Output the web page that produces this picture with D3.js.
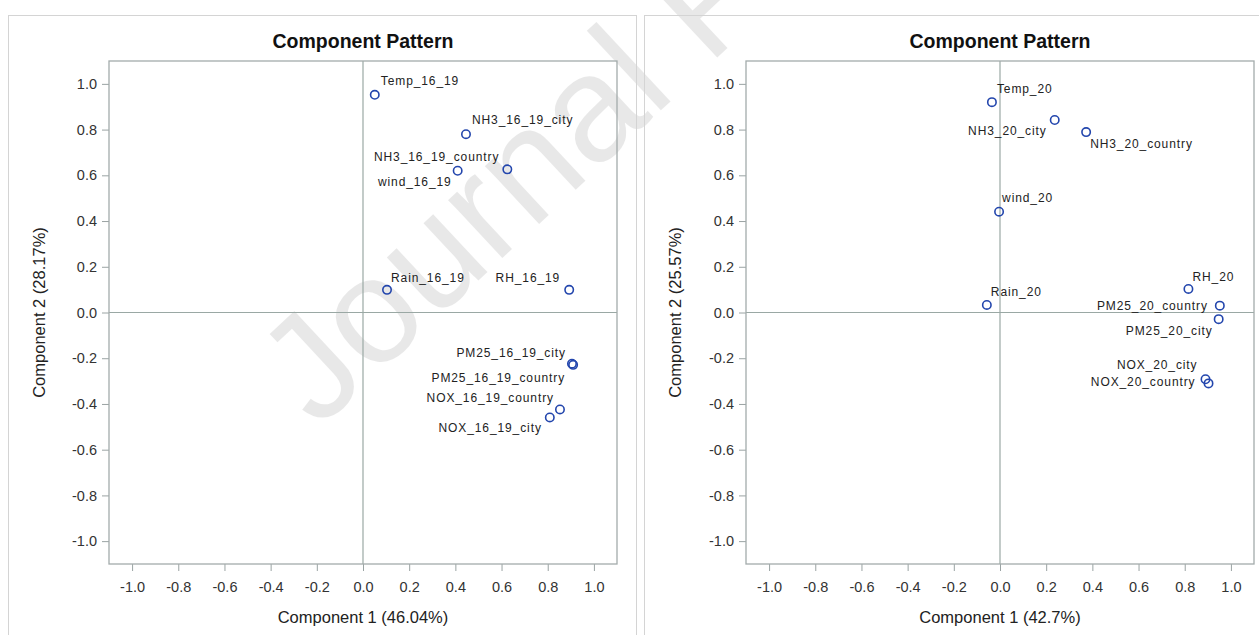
<!DOCTYPE html>
<html>
<head>
    <meta charset="utf-8">
    <title>Component Pattern</title>
    <script src="https://d3js.org/d3.v7.min.js"></script>
    <style>
        body { margin: 0; background: #fff; }
        text { font-family: "Liberation Sans", Arial, sans-serif; }
    </style>
</head>
<body>
    <script>
        // data
        const ticks = [-1.0, -0.8, -0.6, -0.4, -0.2, 0.0, 0.2, 0.4, 0.6, 0.8, 1.0];

        const names1619 = ["Temp_16_19", "NH3_16_19_city", "NH3_16_19_country", "wind_16_19",
            "Rain_16_19", "RH_16_19", "PM25_16_19_city", "PM25_16_19_country",
            "NOX_16_19_country", "NOX_16_19_city"];
        const comp1_1619 = [0.051, 0.446, 0.625, 0.41, 0.104, 0.893, 0.905, 0.91, 0.853, 0.809];
        const comp2_1619 = [0.952, 0.78, 0.626, 0.62, 0.099, 0.099, -0.224, -0.229, -0.424, -0.459];

        const names20 = ["Temp_20", "NH3_20_city", "NH3_20_country", "wind_20", "Rain_20",
            "RH_20", "PM25_20_country", "PM25_20_city", "NOX_20_city", "NOX_20_country"];
        const comp1_20 = [-0.035, 0.237, 0.373, -0.004, -0.057, 0.816, 0.952, 0.947, 0.89, 0.903];
        const comp2_20 = [0.92, 0.842, 0.789, 0.441, 0.033, 0.103, 0.03, -0.029, -0.292, -0.31];

        // where each label sits relative to its point (px)
        const labelPos = {
            "Temp_16_19": [6, -10, "start"],
            "NH3_16_19_city": [6, -10, "start"],
            "NH3_16_19_country": [-8, -8, "end"],
            "wind_16_19": [-6, 15, "end"],
            "Rain_16_19": [4, -8, "start"],
            "RH_16_19": [-9, -8, "end"],
            "PM25_16_19_city": [-6, -7, "end"],
            "PM25_16_19_country": [-8, 17, "end"],
            "NOX_16_19_country": [-6, -7, "end"],
            "NOX_16_19_city": [-8, 15, "end"],
            "Temp_20": [5, -9, "start"],
            "NH3_20_city": [-8, 15, "end"],
            "NH3_20_country": [4, 16, "start"],
            "wind_20": [3, -10, "start"],
            "Rain_20": [4, -9, "start"],
            "RH_20": [4, -8, "start"],
            "PM25_20_country": [-12, 4, "end"],
            "PM25_20_city": [-6, 16, "end"],
            "NOX_20_city": [-8, -10, "end"],
            "NOX_20_country": [-13, 3, "end"]
        };

        const width = 1259, height = 635;

        const svg = d3.select("body").append("svg")
            .attr("width", width)
            .attr("height", height);

        svg.append("rect").attr("width", width).attr("height", height).attr("fill", "#fff");

        // watermark (behind the charts' marks)
        svg.append("text")
            .attr("transform", "translate(318,430) rotate(-43)")
            .attr("font-size", 150)
            .attr("fill", "#000")
            .attr("opacity", 0.085)
            .text("Journal Pre");

        function drawPanel(opts) {
            const g = svg.append("g");

            // outer panel border
            g.append("rect")
                .attr("x", opts.px + 0.5).attr("y", 15.5)
                .attr("width", 628).attr("height", 640)
                .attr("fill", "none").attr("stroke", "#d4d4d4");

            const x = d3.scaleLinear().domain([-1.1, 1.1]).range([opts.left, opts.left + 508]);
            const y = d3.scaleLinear().domain([-1.1, 1.1]).range([564, 61]);

            // title
            g.append("text")
                .attr("x", (x.range()[0] + x.range()[1]) / 2)
                .attr("y", 48)
                .attr("text-anchor", "middle")
                .attr("font-size", 19.5)
                .attr("font-weight", "bold")
                .attr("fill", "#111")
                .text("Component Pattern");

            // axes
            const xAxis = g.append("g")
                .attr("transform", `translate(0,${y.range()[0]})`)
                .call(d3.axisBottom(x).tickValues(ticks).tickFormat(d3.format(".1f")).tickSize(7).tickPadding(11));
            const yAxis = g.append("g")
                .attr("transform", `translate(${x.range()[0]},0)`)
                .call(d3.axisLeft(y).tickValues(ticks).tickFormat(d3.format(".1f")).tickSize(7).tickPadding(5));
            [xAxis, yAxis].forEach(a => {
                a.select(".domain").remove();
                a.selectAll(".tick line").attr("stroke", "#9aa3a3");
                a.selectAll(".tick text")
                    .attr("font-size", 14.5)
                    .attr("fill", "#333")
                    .style("font-family", "'Liberation Sans', Arial, sans-serif")
                    .text(d => d3.format(".1f")(d).replace("−", "-"));
            });

            // zero reference lines
            g.append("line")
                .attr("x1", x(0)).attr("x2", x(0))
                .attr("y1", y.range()[1]).attr("y2", y.range()[0])
                .attr("stroke", "#9aa8a4").attr("stroke-width", 1.2);
            g.append("line")
                .attr("x1", x.range()[0]).attr("x2", x.range()[1])
                .attr("y1", y(0)).attr("y2", y(0))
                .attr("stroke", "#9aa8a4").attr("stroke-width", 1.2);

            // plot frame
            g.append("rect")
                .attr("x", x.range()[0]).attr("y", y.range()[1])
                .attr("width", x.range()[1] - x.range()[0])
                .attr("height", y.range()[0] - y.range()[1])
                .attr("fill", "none").attr("stroke", "#a3abab").attr("stroke-width", 1.3);

            // axis titles
            g.append("text")
                .attr("x", (x.range()[0] + x.range()[1]) / 2)
                .attr("y", 623)
                .attr("text-anchor", "middle")
                .attr("font-size", 16.5)
                .attr("fill", "#222")
                .text(opts.xTitle);
            g.append("text")
                .attr("transform", `translate(${opts.px + 37},${y(0)}) rotate(-90)`)
                .attr("text-anchor", "middle")
                .attr("font-size", 16.5)
                .attr("fill", "#222")
                .text(opts.yTitle);

            const data = opts.names.map((n, i) => ({ name: n, c1: opts.c1[i], c2: opts.c2[i] }));

            // point labels
            g.selectAll("text.lbl")
                .data(data)
                .enter().append("text")
                .attr("class", "lbl")
                .attr("x", d => x(d.c1) + labelPos[d.name][0])
                .attr("y", d => y(d.c2) + labelPos[d.name][1])
                .attr("text-anchor", d => labelPos[d.name][2])
                .attr("font-size", 12)
                .attr("letter-spacing", 0.9)
                .attr("fill", "#222")
                .text(d => d.name);

            // markers
            g.selectAll("circle")
                .data(data)
                .enter().append("circle")
                .attr("cx", d => x(d.c1))
                .attr("cy", d => y(d.c2))
                .attr("r", 4.2)
                .attr("fill", "none")
                .attr("stroke", "#2346ad")
                .attr("stroke-width", 1.6);
        }

        drawPanel({ px: 8, left: 109, names: names1619, c1: comp1_1619, c2: comp2_1619,
            xTitle: "Component 1 (46.04%)", yTitle: "Component 2 (28.17%)" });
        drawPanel({ px: 644, left: 746, names: names20, c1: comp1_20, c2: comp2_20,
            xTitle: "Component 1 (42.7%)", yTitle: "Component 2 (25.57%)" });
    </script>
</body>
</html>
